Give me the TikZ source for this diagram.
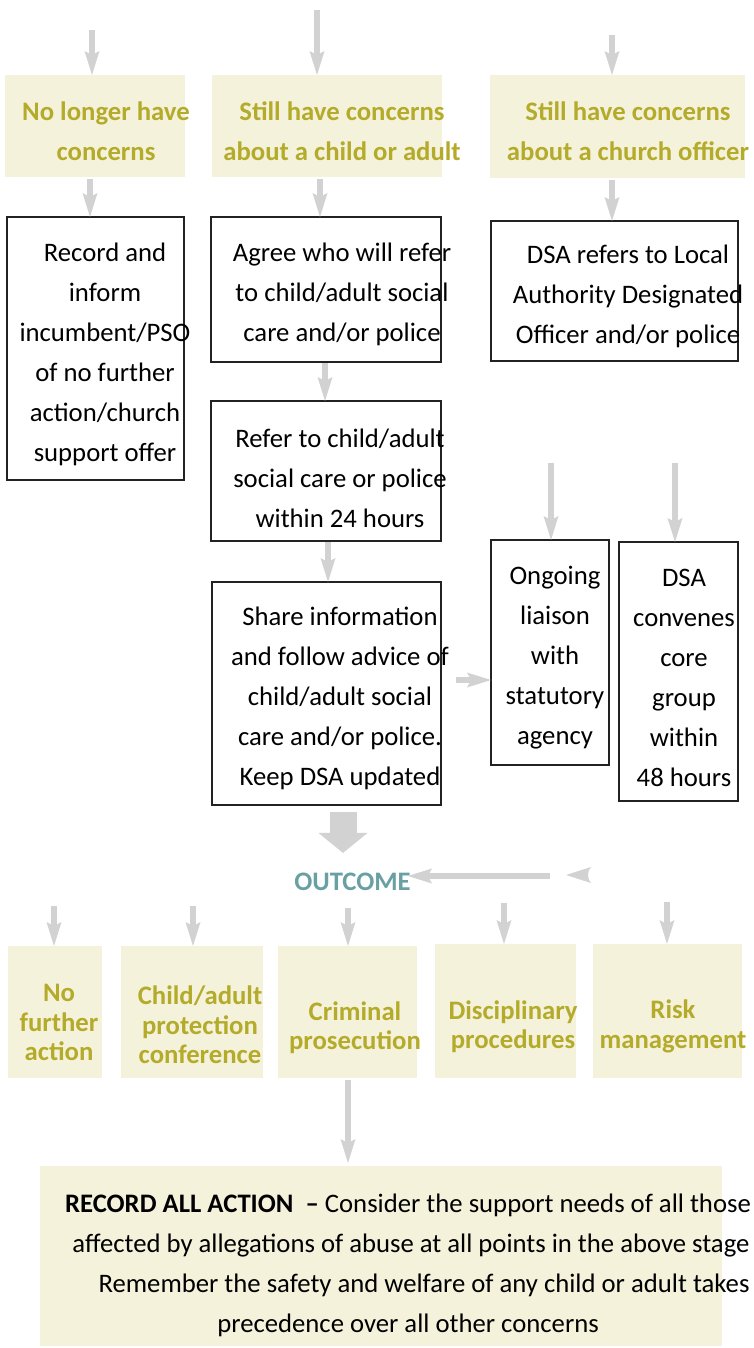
\documentclass[tikz,border=0pt]{standalone}
\usepackage{fontspec}
\setmainfont{Carlito}
\usetikzlibrary{arrows.meta}

\definecolor{cream}{HTML}{F5F2DC}
\definecolor{olive}{HTML}{B3AB29}
\definecolor{outcometeal}{HTML}{68A0A3}
\definecolor{arrowgrey}{HTML}{D2D2D2}
\definecolor{boxline}{HTML}{222222}

\tikzset{
  stagebox/.style={fill=cream, draw=none, anchor=north west, inner sep=0pt, outer sep=0pt},
  actionbox/.style={draw=boxline, line width=1.2pt, fill=white, anchor=north west, inner sep=0pt, outer sep=0pt},
  stagetext/.style={text=olive, font=\fontsize{26.7pt}{40pt}\selectfont\bfseries, align=center, inner sep=0pt},
  outcometext/.style={text=olive, font=\fontsize{26.7pt}{29.5pt}\selectfont\bfseries, align=center, inner sep=0pt},
  actiontext/.style={text=black, font=\fontsize{26.7pt}{40pt}\selectfont, align=center, inner sep=0pt},
  flow/.style={draw=arrowgrey, line width=6pt, -{Stealth[length=24pt,width=15pt,inset=4pt,line width=0pt]}},
  bigflow/.style={draw=arrowgrey, line width=27pt, -{Triangle[length=20pt,width=49pt,line width=0pt]}},
}

\begin{document}
\begin{tikzpicture}[x=1pt,y=-1pt]
\useasboundingbox (0,0) rectangle (754,1348);

% ---- first row: how the concern stands
\node[stagebox, minimum width=180pt, minimum height=102pt] (A) at (5,75) {};
\node[stagebox, minimum width=230pt, minimum height=102pt] (B) at (212,75) {};
\node[stagebox, minimum width=255pt, minimum height=103pt] (C) at (490,75) {};
\node[stagetext] (At) at (106,131) {No longer have\\concerns};
\node[stagetext] (Bt) at (342,131) {Still have concerns\\about a child or adult};
\node[stagetext] (Ct) at (628,131) {Still have concerns\\about a church officer};

% ---- actions
\node[actionbox, minimum width=177pt, minimum height=263pt] (D) at (7,217) {};
\node[actionbox, minimum width=230pt, minimum height=145pt] (E) at (211,217) {};
\node[actionbox, minimum width=247pt, minimum height=140pt] (F) at (491,221) {};
\node[actionbox, minimum width=230pt, minimum height=140pt] (G) at (211,401) {};
\node[actionbox, minimum width=229pt, minimum height=223pt] (H) at (212,582) {};
\node[actionbox, minimum width=118pt, minimum height=225pt] (I) at (491,540) {};
\node[actionbox, minimum width=119pt, minimum height=259pt] (J) at (619,542) {};

\node[actiontext] (Dt) at (105,354) {Record and\\inform\\incumbent/PSO\\of no further\\action/church\\support offer};
\node[actiontext] (Et) at (342,294) {Agree who will refer\\to child/adult social\\care and/or police};
\node[actiontext] (Ft) at (628,296) {DSA refers to Local\\Authority Designated\\Officer and/or police};
\node[actiontext] (Gt) at (340,478) {Refer to child/adult\\social care or police\\within 24 hours};
\node[actiontext] (Ht) at (340,698) {Share information\\and follow advice of\\child/adult social\\care and/or police.\\Keep DSA updated};
\node[actiontext] (It) at (555,658) {Ongoing\\liaison\\with\\statutory\\agency};
\node[actiontext] (Jt) at (684,678) {DSA\\convenes\\core\\group\\within\\48 hours};

% ---- outcome
\node[text=outcometeal, font=\fontsize{26.7pt}{30pt}\selectfont\bfseries, inner sep=0pt] (OUT) at (352.5,882) {OUTCOME};

\node[stagebox, minimum width=94pt, minimum height=132pt] (K) at (8,946) {};
\node[stagebox, minimum width=142pt, minimum height=132pt] (L) at (121,946) {};
\node[stagebox, minimum width=139pt, minimum height=132pt] (M) at (278,946) {};
\node[stagebox, minimum width=141pt, minimum height=134pt] (N) at (435,944) {};
\node[stagebox, minimum width=149pt, minimum height=134pt] (O) at (593,944) {};
\node[outcometext] (Kt) at (59,1022.5) {No\\further\\action};
\node[outcometext] (Lt) at (200,1025) {Child/adult\\protection\\conference};
\node[outcometext] (Mt) at (355,1027.5) {Criminal\\prosecution};
\node[outcometext] (Nt) at (513,1026.5) {Disciplinary\\procedures};
\node[outcometext] (Ot) at (673,1026.5) {Risk\\management};

% ---- closing note
\node[stagebox, minimum width=682pt, minimum height=180pt] (P) at (40,1166) {};
\node[actiontext] (Pt) at (408,1265) {{\bfseries RECORD ALL ACTION\ \ –} Consider the support needs of all those\\\hspace*{6pt}affected by allegations of abuse at all points in the above stage\\\hspace*{32pt}Remember the safety and welfare of any child or adult takes\\precedence over all other concerns};

% ---- connectors
\coordinate (inA) at (92,30);
\coordinate (inB) at (317,10);
\coordinate (inC) at (612,35);
\draw[flow] (inA) -- (inA |- A.north);
\draw[flow] (inB) -- (inB |- B.north);
\draw[flow] (inC) -- (inC |- C.north);

\coordinate (colA) at (90,0);
\coordinate (colB) at (320,0);
\coordinate (colC) at (612,0);
\coordinate (colE) at (325,0);
\coordinate (colG) at (328,0);
\draw[flow, shorten <=2pt] (colA |- A.south) -- (colA |- D.north);
\draw[flow, shorten <=2pt] (colB |- B.south) -- (colB |- E.north);
\draw[flow, shorten <=2pt] (colC |- C.south) -- (colC |- F.north);
\draw[flow, shorten <=1pt] (colE |- E.south) -- (colE |- G.north);
\draw[flow, shorten <=1pt] (colG |- G.south) -- (colG |- H.north);

\coordinate (rowH) at (0,680);
\draw[flow, shorten <=15pt] (rowH -| H.east) -- (rowH -| I.west);

\coordinate (inI) at (551,463);
\coordinate (inJ) at (675,463);
\draw[flow] (inI) -- (inI |- I.north);
\draw[flow] (inJ) -- (inJ |- J.north);

\coordinate (colOut) at (343,0);
\draw[bigflow, shorten <=7pt, shorten >=20pt] (colOut |- H.south) -- (colOut |- OUT.north);

\coordinate (fromRight) at (550,876);
\draw[flow, shorten >=-3pt] (fromRight) -- (fromRight -| OUT.east);
\fill[arrowgrey] (566,875) -- (591,867) .. controls (587,871) and (587,879) .. (591,883) -- cycle;

\coordinate (inK) at (54,906);
\coordinate (inL) at (193,906);
\coordinate (inM) at (348,908);
\coordinate (inN) at (504,903);
\coordinate (inO) at (667,902);
\draw[flow] (inK) -- (inK |- K.north);
\draw[flow] (inL) -- (inL |- L.north);
\draw[flow] (inM) -- (inM |- M.north);
\draw[flow] (inN) -- (inN |- N.north);
\draw[flow] (inO) -- (inO |- O.north);

\coordinate (colM) at (348,0);
\draw[flow, shorten <=2pt, shorten >=3pt] (colM |- M.south) -- (colM |- P.north);
\end{tikzpicture}
\end{document}
